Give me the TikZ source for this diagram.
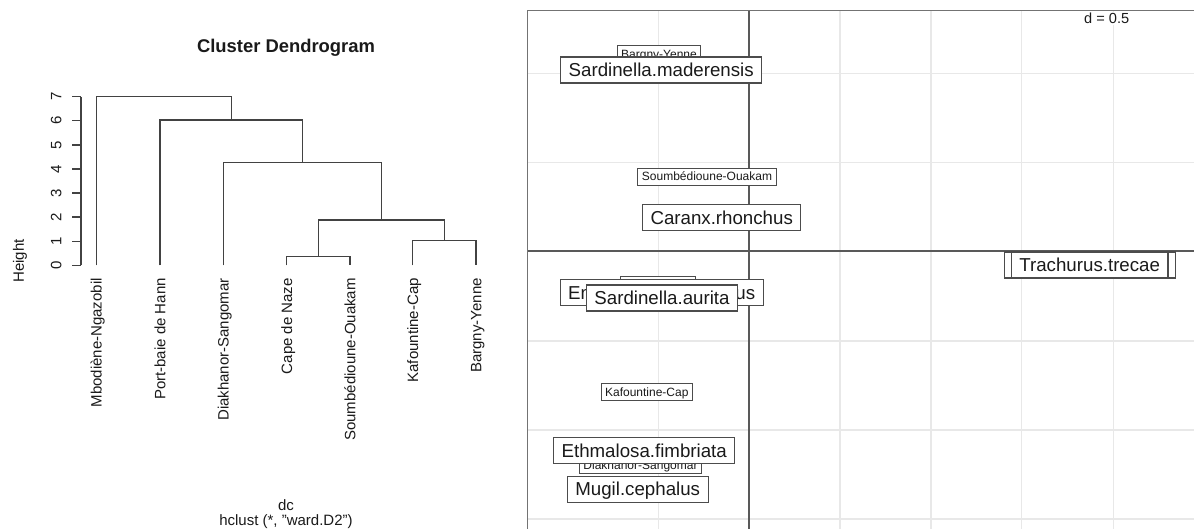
\documentclass[tikz,border=0pt]{standalone}
\usepackage{fontspec}
\setmainfont{Liberation Sans}
\definecolor{ink}{HTML}{1A1A1A}
\definecolor{gridc}{HTML}{E8E8E8}
\begin{document}
\begin{tikzpicture}[x=1pt,y=-1pt,
  dend/.style={draw=black!74,line width=1.4pt},
  gridl/.style={draw=gridc,line width=1.5pt},
  axisl/.style={draw=black!65,line width=1.3pt},
  framel/.style={draw=black!55,line width=1.5pt},
  plain/.style={text=ink,inner sep=0pt,font=\fontsize{15}{18}\selectfont},
  leaflab/.style={plain,rotate=90,anchor=east,text height=10.7pt,text depth=0pt},
  ticklab/.style={plain,rotate=90,anchor=center,text height=10.7pt,text depth=0pt},
  splab/.style={draw=black!70,fill=white,line width=1.1pt,text=ink,
    font=\fontsize{18.7}{20}\selectfont,inner xsep=8pt,inner ysep=0pt,
    text height=13.4pt,text depth=0pt,minimum height=26pt},
  smlab/.style={draw=black!70,fill=white,line width=1pt,text=ink,
    font=\fontsize{12}{14}\selectfont,inner xsep=4pt,inner ysep=0pt,
    text height=8.6pt,text depth=0pt,minimum height=16.7pt}]
\useasboundingbox (0,0) rectangle (1194,529);
\fill[white] (0,0) rectangle (1194,529);

% ---------------- Dendrogram ----------------
\node[plain,font=\fontsize{18.4}{22}\selectfont\bfseries] (title) at (286,47.5) {Cluster Dendrogram};

% leaves
\coordinate (L1) at (96.3,265.3);
\coordinate (L2) at (160,265.3);
\coordinate (L3) at (223.3,265.3);
\coordinate (L4) at (286.7,265.3);
\coordinate (L5) at (350,265.3);
\coordinate (L6) at (412.7,265.3);
\coordinate (L7) at (476,265.3);

% merges
\draw[dend] (L4) -- (286.7,256.7) -- (350,256.7) -- (L5);
\draw[dend] (L6) -- (412.7,240.7) -- (476,240.7) -- (L7);
\draw[dend] (318.3,256.7) -- (318.3,220) -- (444.3,220) -- (444.3,240.7);
\draw[dend] (L3) -- (223.3,162.7) -- (381.3,162.7) -- (381.3,220);
\draw[dend] (L2) -- (160,120) -- (302.3,120) -- (302.3,162.7);
\draw[dend] (L1) -- (96.3,96.7) -- (231.2,96.7) -- (231.2,120);

% y axis
\draw[dend] (81,265.3) -- (81,96.7);
\foreach \v in {0,...,7}{
  \draw[dend] (81,265.3-24.086*\v) -- (72,265.3-24.086*\v);
  \node[ticklab] (tick\v) at (56,265.3-24.086*\v) {\v};
}
\node[plain,rotate=90,anchor=center] (ylab) at (20,261) {Height};

% leaf labels
\node[leaflab] (n1) at (96.3,278) {Mbodiène-Ngazobil};
\node[leaflab] (n2) at (160,278) {Port-baie de Hann};
\node[leaflab] (n3) at (223.3,278) {Diakhanor-Sangomar};
\node[leaflab] (n4) at (286.7,278) {Cape de Naze};
\node[leaflab] (n5) at (350,278) {Soumbédioune-Ouakam};
\node[leaflab] (n6) at (412.7,278) {Kafountine-Cap};
\node[leaflab] (n7) at (476,278) {Bargny-Yenne};

\node[plain] (xlab) at (286,505) {dc};
\node[plain] (sub) at (286,521.5) {hclust (*, "ward.D2")};

% ---------------- Factorial map ----------------
\foreach \gx in {658.3,840,931,1021.7,1113.3}
  \draw[gridl] (\gx,10.7) -- (\gx,529);
\foreach \gy in {73.3,162.3,341,430,519}
  \draw[gridl] (527.5,\gy) -- (1194,\gy);
\draw[axisl] (749,10.7) -- (749,529);
\draw[axisl] (527.5,251) -- (1194,251);
\draw[framel] (527.5,529) -- (527.5,10.7) -- (1194,10.7);

\node[fill=white,text=ink,inner sep=1pt,font=\fontsize{14.6}{16}\selectfont] (dlab) at (1106.7,18.5) {d = 0.5};

% labels
\node[smlab] (bargny) at (659,54.3) {Bargny-Yenne};
\node[splab] (smad) at (661.2,70) {Sardinella.maderensis};
\node[smlab] (soumb) at (707,176.7) {Soumbédioune-Ouakam};
\node[splab] (caranx) at (721.7,217.5) {Caranx.rhonchus};
\node[smlab,minimum width=75pt] (hidden) at (658.3,285) {};
\node[splab] (engr) at (661.7,292.5) {Engraulis.encrasicolus};
\node[splab] (saur) at (662,298) {Sardinella.aurita};
\node[draw=black!70,fill=white,line width=1.1pt,minimum width=171pt,minimum height=26pt,inner sep=0pt] (trback) at (1090,265) {};
\node[splab] (trach) at (1089.7,265) {Trachurus.trecae};
\node[smlab] (kafo) at (646.8,392.3) {Kafountine-Cap};
\node[smlab] (diak) at (640.5,465) {Diakhanor-Sangomar};
\node[splab] (ethm) at (644.2,450.8) {Ethmalosa.fimbriata};
\node[splab] (mugil) at (637.7,489.2) {Mugil.cephalus};
\end{tikzpicture}
\end{document}
